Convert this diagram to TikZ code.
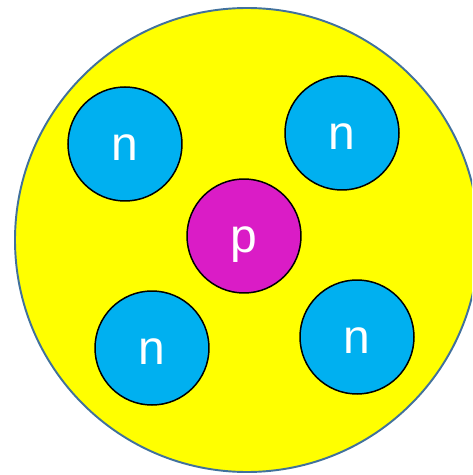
\documentclass[tikz,border=0pt]{standalone}
\usepackage{fontspec}
\setmainfont{Liberation Sans}
\usepackage{xcolor}
\usepackage{tikz}
\definecolor{nucleuscol}{RGB}{255,255,0}
\definecolor{rimcol}{RGB}{65,113,156}
\definecolor{neutroncol}{RGB}{0,176,240}
\definecolor{protoncol}{RGB}{218,28,198}

\begin{document}
\begin{tikzpicture}[
  nucleus/.style={circle, draw=rimcol, fill=nucleuscol, line width=1.1pt,
                  minimum size=9.28cm, inner sep=0pt},
  particle/.style={circle, draw=black, line width=0.85pt, minimum size=2.28cm,
                   inner sep=0pt, text=white,
                   font=\fontsize{27.3pt}{27.3pt}\selectfont,
                   text height=24.7pt, text depth=5.8pt},
  neutron/.style={particle, fill=neutroncol},
  proton/.style={particle, fill=protoncol}
]
  \useasboundingbox (-4.94,-4.70) rectangle (4.50,4.80);
  \clip (-4.94,-4.70) rectangle (4.50,4.80);
  \node[nucleus] (core) at (0,0) {};
  \node[proton] (p0) at (-0.06,0.08) {p};
  \node[neutron] (n1) at (-2.44,1.92) {n};
  \node[neutron] (n2) at (1.90,2.14) {n};
  \node[neutron] (n3) at (-1.90,-2.16) {n};
  \node[neutron] (n4) at (2.20,-1.94) {n};
\end{tikzpicture}
\end{document}
